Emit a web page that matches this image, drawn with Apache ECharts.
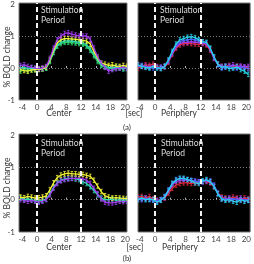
<!DOCTYPE html>
<html>
<head>
<meta charset="utf-8">
<script src="https://cdn.jsdelivr.net/npm/echarts@6/dist/echarts.min.js"></script>
<style>
  html, body { margin: 0; background: #fff; }
  #chart { width: 254px; height: 264px; }
</style>
</head>
<body>
<div id="chart"></div>
<script>
// sample times in seconds
const time = [-4.5, -3.5, -2.5, -1.5, -0.5, 0.5, 1.5, 2.5, 3.5, 4.5, 5.5, 6.5, 7.5, 8.5, 9.5,
  10.5, 11.5, 12.5, 13.5, 14.5, 15.5, 16.5, 17.5, 18.5, 19.5, 20.5, 21.5, 22.5, 23.5, 24.5];
const xTicks = [-4, 0, 4, 8, 12, 16, 20, 24];
const xTickLabels = ['-4', '0', '4', '8', '12', '14', '18', '20'];
const yTicks = [-1, 0, 1, 2];
const stimLines = [0, 12];
const errHalf = 0.07;

// (a) center
const aCenterGreen  = [-0.1, -0.05, -0.08, -0.05, -0.06, -0.03, -0.02, 0.0, 0.2, 0.48, 0.68, 0.76, 0.8, 0.8, 0.79, 0.78, 0.76, 0.74, 0.68, 0.55, 0.38, 0.2, 0.08, 0.02, 0.0, -0.02, 0.0, 0.02, 0.0, -0.02];
const aCenterTeal   = [0.0, 0.02, -0.02, 0.0, -0.03, -0.05, -0.03, 0.0, 0.22, 0.5, 0.7, 0.8, 0.84, 0.85, 0.84, 0.82, 0.8, 0.78, 0.72, 0.6, 0.42, 0.25, 0.1, 0.05, 0.02, 0.0, 0.03, 0.0, -0.03, 0.0];
const aCenterYellow = [-0.05, -0.08, -0.1, -0.06, -0.05, -0.04, -0.02, 0.02, 0.25, 0.55, 0.78, 0.88, 0.92, 0.92, 0.9, 0.9, 0.88, 0.86, 0.84, 0.75, 0.52, 0.3, 0.15, 0.12, 0.08, 0.1, 0.06, 0.05, 0.08, 0.05];
const aCenterPurple = [0.08, 0.1, 0.05, 0.02, 0.0, -0.02, 0.0, 0.05, 0.3, 0.62, 0.88, 1.0, 1.08, 1.1, 1.06, 1.03, 1.0, 1.0, 1.0, 0.9, 0.62, 0.35, 0.15, 0.03, -0.1, -0.05, -0.02, 0.0, 0.02, -0.02];

// (a) periphery
const aPeriRed    = [0.0, 0.05, 0.1, 0.08, 0.12, 0.05, 0.0, 0.03, 0.18, 0.42, 0.62, 0.72, 0.76, 0.78, 0.76, 0.75, 0.74, 0.76, 0.72, 0.55, 0.3, 0.12, 0.05, 0.04, 0.08, 0.02, 0.06, 0.04, 0.02, 0.0];
const aPeriPurple = [0.08, 0.05, 0.06, 0.04, 0.06, 0.02, 0.03, 0.06, 0.2, 0.45, 0.65, 0.76, 0.8, 0.8, 0.82, 0.8, 0.8, 0.78, 0.75, 0.58, 0.3, 0.12, 0.05, 0.06, 0.05, 0.1, 0.05, 0.06, 0.04, 0.05];
const aPeriBlue   = [0.05, 0.08, 0.03, 0.02, 0.0, 0.02, 0.0, 0.04, 0.22, 0.48, 0.7, 0.82, 0.86, 0.88, 0.9, 0.88, 0.85, 0.82, 0.78, 0.6, 0.33, 0.1, 0.0, 0.02, 0.05, 0.02, 0.0, 0.02, 0.0, -0.02];
const aPeriCyan   = [0.1, 0.05, 0.02, 0.0, 0.05, 0.0, -0.02, 0.05, 0.25, 0.52, 0.75, 0.88, 0.92, 0.96, 0.98, 0.95, 0.88, 0.82, 0.8, 0.62, 0.35, 0.12, 0.02, 0.05, -0.02, 0.0, 0.03, -0.05, -0.1, -0.2];

// (b) center
const bCenterTeal   = [0.05, 0.0, 0.02, 0.0, -0.03, -0.05, -0.02, 0.02, 0.18, 0.38, 0.52, 0.6, 0.64, 0.66, 0.66, 0.64, 0.62, 0.55, 0.5, 0.4, 0.28, 0.15, 0.05, 0.0, 0.0, 0.02, -0.02, 0.0, -0.02, 0.0];
const bCenterPurple = [0.0, -0.02, -0.05, -0.02, -0.05, -0.08, -0.05, 0.0, 0.15, 0.35, 0.5, 0.58, 0.62, 0.64, 0.66, 0.66, 0.66, 0.64, 0.6, 0.5, 0.35, 0.18, 0.02, -0.08, -0.1, -0.1, -0.08, -0.05, -0.06, -0.05];
const bCenterYellow = [0.08, 0.06, 0.1, 0.08, 0.05, 0.06, 0.08, 0.12, 0.3, 0.52, 0.68, 0.76, 0.8, 0.82, 0.8, 0.8, 0.78, 0.78, 0.75, 0.72, 0.6, 0.42, 0.25, 0.12, 0.08, 0.05, 0.06, 0.05, 0.04, 0.03];

// (b) periphery
const bPeriRed    = [0.08, 0.1, 0.05, 0.1, 0.02, -0.02, 0.0, 0.05, 0.2, 0.35, 0.45, 0.5, 0.52, 0.52, 0.5, 0.52, 0.54, 0.56, 0.56, 0.52, 0.4, 0.2, 0.08, 0.05, 0.02, 0.08, 0.05, 0.0, 0.05, 0.02];
const bPeriPurple = [0.02, 0.0, 0.05, 0.02, 0.0, -0.04, 0.0, 0.06, 0.25, 0.45, 0.56, 0.6, 0.62, 0.6, 0.58, 0.56, 0.55, 0.56, 0.58, 0.54, 0.42, 0.2, 0.05, 0.02, 0.05, 0.0, 0.02, 0.05, 0.0, 0.0];
const bPeriBlue   = [0.05, 0.02, 0.03, 0.0, -0.02, -0.05, 0.0, 0.1, 0.3, 0.5, 0.62, 0.65, 0.64, 0.62, 0.6, 0.58, 0.55, 0.55, 0.6, 0.58, 0.45, 0.2, 0.05, 0.02, 0.0, 0.02, 0.0, -0.02, 0.0, -0.02];
const bPeriCyan   = [0.0, 0.05, 0.0, 0.02, 0.0, -0.08, -0.02, 0.08, 0.28, 0.5, 0.6, 0.66, 0.66, 0.62, 0.58, 0.52, 0.5, 0.58, 0.62, 0.55, 0.4, 0.18, 0.02, -0.02, 0.0, -0.05, -0.08, 0.0, -0.05, -0.02];

const C = {
  green: '#2fcf5a', teal: '#2fd9b8', yellow: '#f4f436', purple: '#a23cf0',
  red: '#e0283a', blue: '#4a64ff', cyan: '#26d6e8'
};
const FONT = 'Lato';

const panels = [
  { grid: { left: 19, top: 3, width: 108, height: 97 }, xMin: -4.9, xMax: 24.5, yLabels: true,
    lines: [[aCenterGreen, C.green], [aCenterTeal, C.teal], [aCenterYellow, C.yellow], [aCenterPurple, C.purple]] },
  { grid: { left: 138, top: 3, width: 113, height: 97 }, xMin: -4.5, xMax: 25, yLabels: false,
    lines: [[aPeriRed, C.red], [aPeriPurple, C.purple], [aPeriBlue, C.blue], [aPeriCyan, C.cyan]] },
  { grid: { left: 19, top: 134, width: 108, height: 98 }, xMin: -4.9, xMax: 24.5, yLabels: true,
    lines: [[bCenterTeal, C.teal], [bCenterPurple, C.purple], [bCenterYellow, C.yellow]] },
  { grid: { left: 138, top: 134, width: 113, height: 98 }, xMin: -4.5, xMax: 25, yLabels: false,
    lines: [[bPeriRed, C.red], [bPeriPurple, C.purple], [bPeriBlue, C.blue], [bPeriCyan, C.cyan]] }
];

function errorBars(i, vals, color) {
  return {
    type: 'custom', xAxisIndex: i, yAxisIndex: i, silent: true, clip: true, z: 3,
    data: time.map((t, k) => [t, vals[k]]),
    renderItem(params, api) {
      const x = api.value(0), y = api.value(1);
      const hi = api.coord([x, y + errHalf]);
      const lo = api.coord([x, y - errHalf]);
      const st = { stroke: color, lineWidth: 0.8 };
      return {
        type: 'group', children: [
          { type: 'line', shape: { x1: hi[0], y1: hi[1], x2: lo[0], y2: lo[1] }, style: st },
          { type: 'line', shape: { x1: hi[0] - 1.3, y1: hi[1], x2: hi[0] + 1.3, y2: hi[1] }, style: st },
          { type: 'line', shape: { x1: lo[0] - 1.3, y1: lo[1], x2: lo[0] + 1.3, y2: lo[1] }, style: st }
        ]
      };
    }
  };
}

const grids = [], xAxes = [], yAxes = [], series = [];
panels.forEach((p, i) => {
  grids.push(Object.assign({ show: true, backgroundColor: '#000', borderColor: '#777', borderWidth: 1 }, p.grid));
  xAxes.push({
    type: 'value', gridIndex: i, min: p.xMin, max: p.xMax,
    axisLine: { show: false }, splitLine: { show: false },
    axisTick: { show: true, inside: true, length: 2, customValues: xTicks, lineStyle: { color: '#bbb' } },
    axisLabel: { customValues: xTicks, formatter: v => xTickLabels[xTicks.indexOf(v)],
      fontSize: 8, color: '#444', margin: 3, fontFamily: FONT }
  });
  yAxes.push({
    type: 'value', gridIndex: i, min: -1, max: 2.03,
    axisLine: { show: false }, splitLine: { show: false }, axisTick: { show: false },
    axisLabel: { show: p.yLabels, customValues: yTicks, fontSize: 8, color: '#444', margin: 4, fontFamily: FONT }
  });
  p.lines.forEach(([vals, color], k) => {
    const s = {
      type: 'line', xAxisIndex: i, yAxisIndex: i, symbol: 'none', z: 4,
      data: time.map((t, j) => [t, vals[j]]),
      lineStyle: { color, width: 1.3 }, itemStyle: { color }, silent: true
    };
    if (k === 0) {
      s.markLine = { silent: true, symbol: 'none', label: { show: false }, z: 1,
        data: [0, 1].map(v => ({ yAxis: v, lineStyle: { color: '#9a9a9a', type: [1, 2], width: 0.8 } })) };
    }
    if (k === p.lines.length - 1) {
      s.markLine = { silent: true, symbol: 'none', label: { show: false },
        data: stimLines.map(v => ({ xAxis: v, lineStyle: { color: '#f2f2f2', type: [5, 3], width: 2 } })) };
    }
    series.push(errorBars(i, vals, color));
    series.push(s);
  });
});

function txt(x, y, text, opts) {
  return Object.assign({ type: 'text', x, y, silent: true, z: 10,
    style: Object.assign({ text, fontSize: 8.5, fontFamily: FONT, fill: '#333', align: 'center', verticalAlign: 'middle' }, opts || {}) });
}
const stim = { fill: '#dcdcdc', align: 'left' };

const graphics = [
  txt(41, 10.5, 'Stimulation', stim), txt(41, 20, 'Period', stim),
  txt(160, 10.5, 'Stimulation', stim), txt(160, 20, 'Period', stim),
  txt(41, 143.5, 'Stimulation', stim), txt(41, 153.5, 'Period', stim),
  txt(161, 143.5, 'Stimulation', stim), txt(161, 153.5, 'Period', stim),
  txt(59, 113.5, 'Center'), txt(179, 113.5, 'Periphery'), txt(134, 113.5, '[sec]'), txt(127, 127, '(a)', { fontSize: 8 }),
  txt(59, 247, 'Center'), txt(180, 247, 'Periphery'), txt(135, 247, '[sec]'), txt(127, 258, '(b)', { fontSize: 8 }),
  Object.assign(txt(7, 57, '% BOLD change'), { rotation: Math.PI / 2 }),
  Object.assign(txt(7, 188, '% BOLD change'), { rotation: Math.PI / 2 })
];

const chart = echarts.init(document.getElementById('chart'));
chart.setOption({
  animation: false,
  grid: grids, xAxis: xAxes, yAxis: yAxes, series,
  graphic: graphics
});
</script>
</body>
</html>
